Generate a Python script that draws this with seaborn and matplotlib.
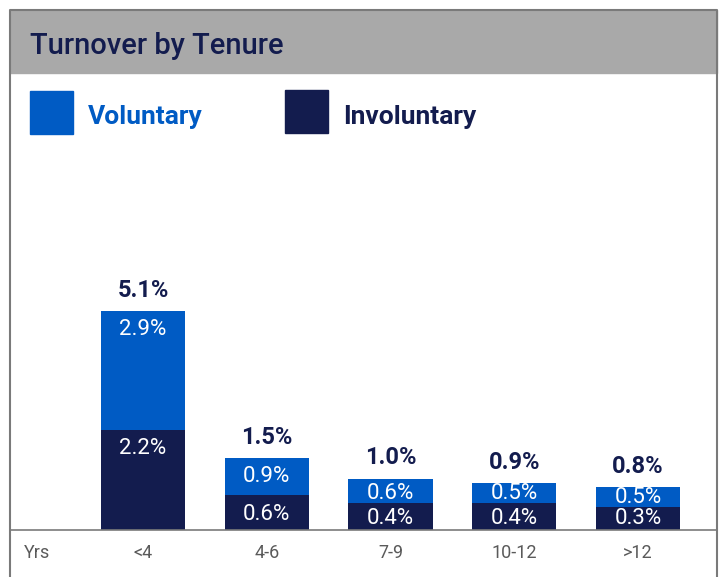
import matplotlib
matplotlib.use("Agg")
import numpy as np
import pandas as pd
import seaborn as sns
import matplotlib.pyplot as plt
from matplotlib.patches import Rectangle
from matplotlib.lines import Line2D

# data
tenure = ["<4", "4-6", "7-9", "10-12", ">12"]
voluntary = [2.9, 0.9, 0.6, 0.5, 0.5]
involuntary = [2.2, 0.6, 0.4, 0.4, 0.3]
total = [v + i for v, i in zip(voluntary, involuntary)]

BLUE = "#005bc4"
NAVY = "#131c4e"
BAND = "#a9a9a9"
FRAME = "#7a7a7a"

sns.set_theme(style="white")
plt.rcParams["font.family"] = ["Roboto", "DejaVu Sans"]

W, H = 719, 577
fig = plt.figure(figsize=(W / 100, H / 100), dpi=100)


def fx(px):
    return px / W


def fy(py):
    return 1 - py / H


# axes: bottom line at y=530 px, spans the frame width
ax = fig.add_axes([fx(10), fy(530), (717 - 10) / W, 380 / H])

# the original infographic draws every bar with a small minimum stub
ppu = 40.9          # pixels per percentage point
stub = 10.3 / ppu   # constant stub added above the baseline


def fwd(v):
    v = np.asarray(v, dtype=float)
    return np.where(v > 0, v + stub, v)


def inv(v):
    v = np.asarray(v, dtype=float)
    return np.where(v > stub, v - stub, v)


ax.set_yscale("function", functions=(fwd, inv))

df = pd.DataFrame({"tenure": tenure, "total": total, "involuntary": involuntary})
sns.barplot(data=df, x="tenure", y="total", color=BLUE, width=0.68,
            saturation=1, linewidth=0, ax=ax)
sns.barplot(data=df, x="tenure", y="involuntary", color=NAVY, width=0.68,
            saturation=1, linewidth=0, ax=ax)

ax.set_ylim(0, 380 / ppu - stub)
ax.set_xlim(-1.075, 4.638)

for i in range(len(tenure)):
    ax.annotate(f"{total[i]:.1f}%", (i, total[i]), xytext=(0, 15),
                textcoords="offset points", ha="center", va="center",
                fontsize=17, fontweight="bold", color=NAVY)
    yv = max(total[i] - 18 / ppu, involuntary[i] + 10 / ppu)
    ax.text(i, yv, f"{voluntary[i]:.1f}%", ha="center", va="center",
            fontsize=16, color="white")
    yi = max(involuntary[i] - 19 / ppu, 12 / ppu - stub)
    ax.text(i, yi, f"{involuntary[i]:.1f}%", ha="center", va="center",
            fontsize=16, color="white")

ax.set_xlabel("")
ax.set_ylabel("")
ax.set_yticks([])
ax.minorticks_off()
ax.tick_params(axis="x", length=0, pad=10, labelsize=13, labelcolor="#5a5a5a")
for s in ["top", "left", "right"]:
    ax.spines[s].set_visible(False)
ax.spines["bottom"].set_color(FRAME)
ax.spines["bottom"].set_linewidth(1.2)

fig.text(fx(24), fy(553), "Yrs", fontsize=13, color="#5a5a5a",
         ha="left", va="center")

# title band and frame
fig.add_artist(Rectangle((fx(10), fy(73)), (717 - 10) / W, 63 / H,
                         transform=fig.transFigure, color=BAND, zorder=0))
fig.add_artist(Line2D([fx(10), fx(10), fx(717), fx(717)],
                      [0, fy(10), fy(10), 0], transform=fig.transFigure,
                      color=FRAME, linewidth=1.5))
fig.text(fx(30), fy(46), "Turnover by Tenure", fontsize=21,
         fontweight="medium", color=NAVY, va="center", ha="left")

# legend
fig.add_artist(Rectangle((fx(30), fy(134)), 43 / W, 43 / H,
                         transform=fig.transFigure, color=BLUE))
fig.text(fx(88), fy(117), "Voluntary", fontsize=19, fontweight="bold",
         color=BLUE, va="center", ha="left")
fig.add_artist(Rectangle((fx(285), fy(133)), 43 / W, 43 / H,
                         transform=fig.transFigure, color=NAVY))
fig.text(fx(343), fy(117), "Involuntary", fontsize=19, fontweight="bold",
         color=NAVY, va="center", ha="left")

fig.savefig("out.png", dpi=100)
